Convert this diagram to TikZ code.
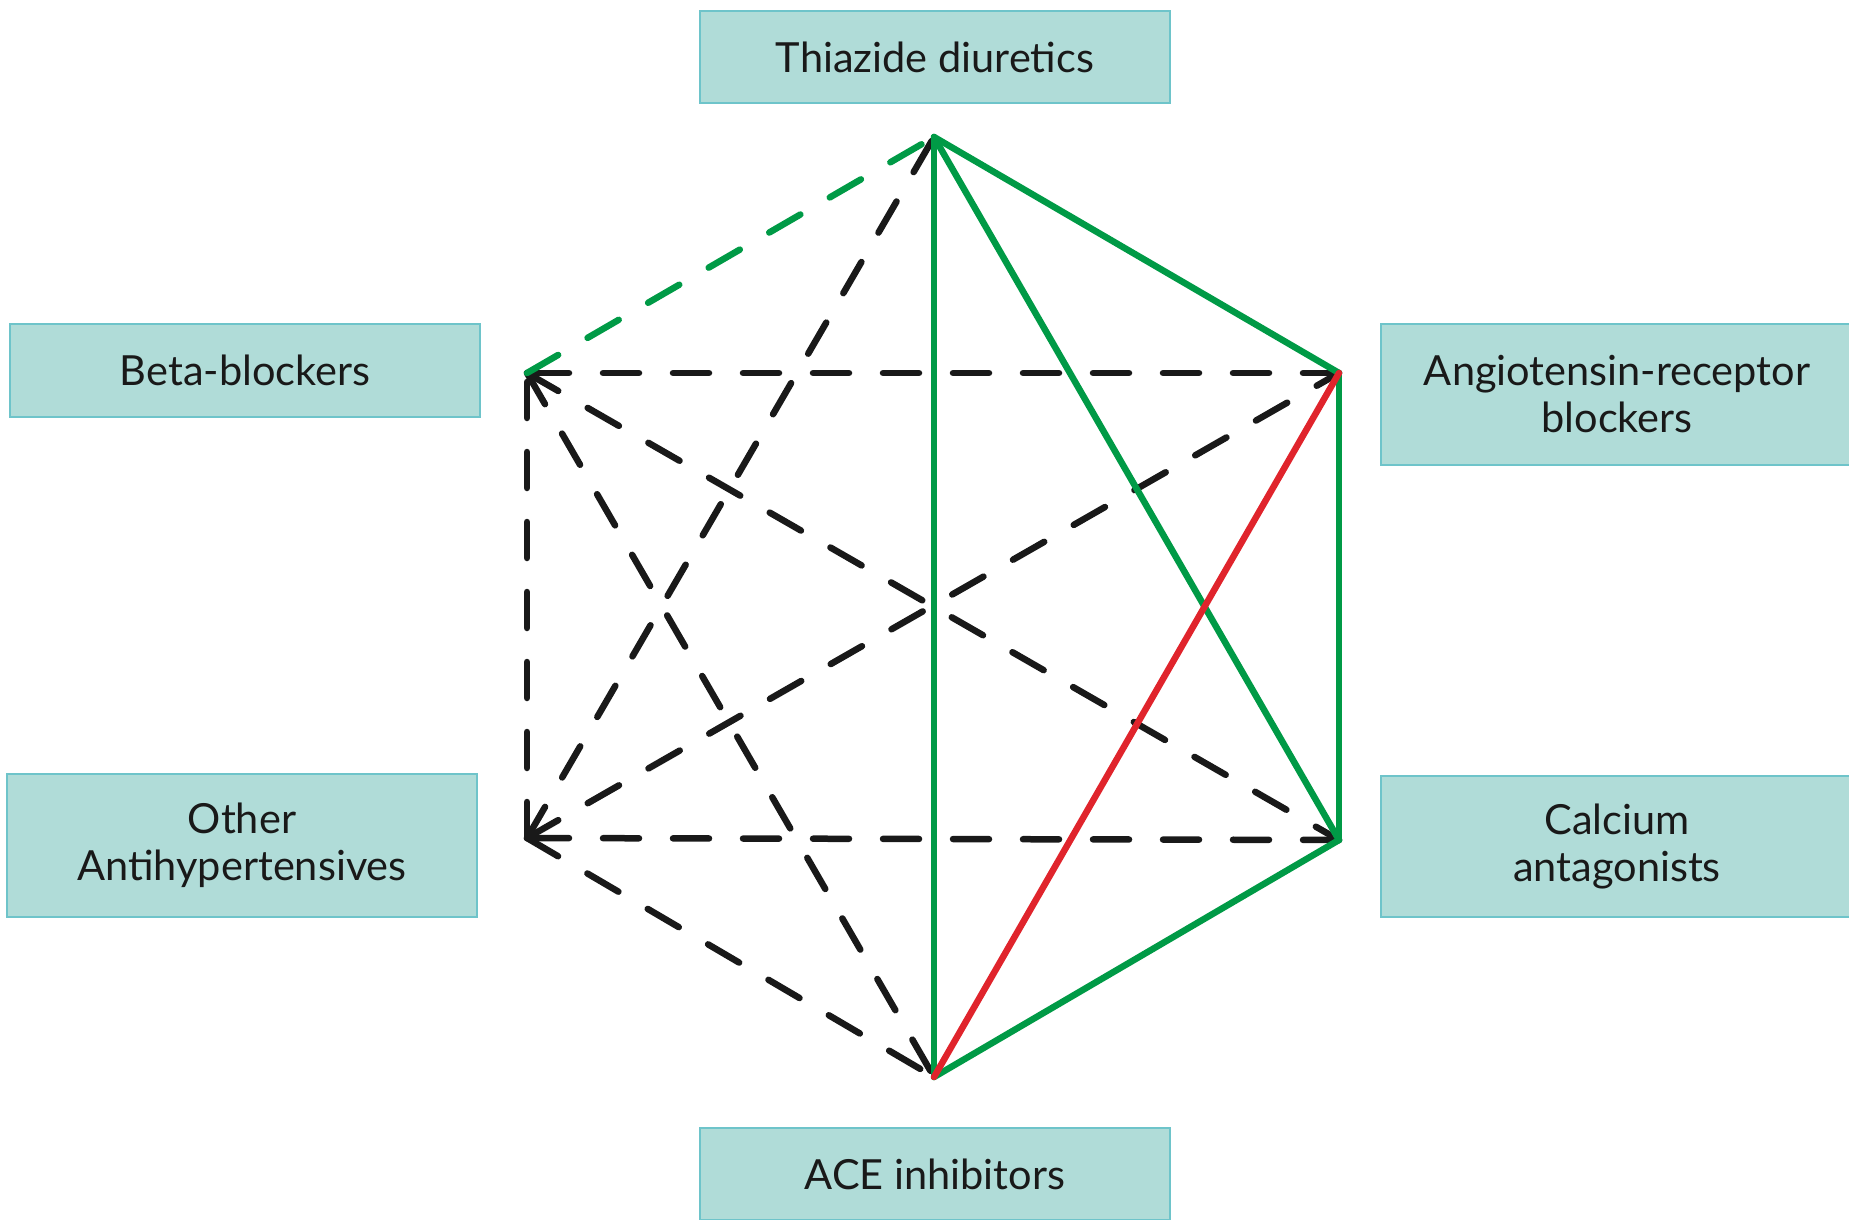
\documentclass[tikz,border=0pt]{standalone}
\usepackage{fontspec}
\setmainfont{Lato}
\definecolor{boxfill}{RGB}{176,220,216}
\definecolor{boxline}{RGB}{110,196,202}
\definecolor{goodgreen}{RGB}{0,154,70}
\definecolor{badred}{RGB}{224,36,44}
\definecolor{maybeblack}{RGB}{25,25,25}
\definecolor{textcol}{RGB}{25,25,25}
\begin{document}
\begin{tikzpicture}[x=1pt,y=-1pt]
\useasboundingbox (0,0) rectangle (1849,1220);
\tikzset{
  drug/.style={draw=boxline, fill=boxfill, line width=2pt, inner sep=0pt,
    font=\fontsize{41.5}{47}\selectfont, align=center, text=textcol},
  good/.style={draw=goodgreen, line width=6.5pt, line cap=round},
  bad/.style={draw=badred, line width=6.5pt, line cap=round},
  maybe/.style={draw=maybeblack, line width=6.5pt, line cap=round, dash pattern=on 36pt off 34pt},
  maybegreen/.style={draw=goodgreen, line width=6.5pt, line cap=round, dash pattern=on 36pt off 34pt},
}
% boxes
\node[drug, minimum width=470, minimum height=92] (thz) at (935,57) {Thiazide diuretics};
\node[drug, minimum width=470, minimum height=93] (beta) at (245,370) {Beta-blockers};
\node[drug, minimum width=472, minimum height=141] (arb) at (1617,394) {Angiotensin-receptor\\blockers};
\node[drug, minimum width=470, minimum height=143] (other) at (242,845) {Other\\Antihypertensives};
\node[drug, minimum width=472, minimum height=141] (cca) at (1617,846) {Calcium\\antagonists};
\node[drug, minimum width=470, minimum height=92] (ace) at (935,1174) {ACE inhibitors};
% hexagon vertices
\coordinate (T) at (934,137);
\coordinate (UR) at (1339,373);
\coordinate (LR) at (1339,840);
\coordinate (B) at (934,1077);
\coordinate (LL) at (527,838);
\coordinate (UL) at (527,373);
% dashed (possible) combinations
\draw[maybe] (UR) -- (UL);
\draw[maybe] (UL) -- (LR);
\draw[maybe] (UL) -- (B);
\draw[maybe] (LL) -- (UL);
\draw[maybe] (LL) -- (T);
\draw[maybe] (LL) -- (UR);
\draw[maybe] (LR) -- (LL);
\draw[maybe] (LL) -- (B);
\draw[maybegreen] (UL) -- (T);
% preferred combinations
\draw[good] (T) -- (UR);
\draw[good] (UR) -- (LR);
\draw[good] (LR) -- (B);
\draw[good] (B) -- (T);
\draw[good] (T) -- (LR);
% not recommended
\draw[bad] (UR) -- (B);
\end{tikzpicture}
\end{document}
